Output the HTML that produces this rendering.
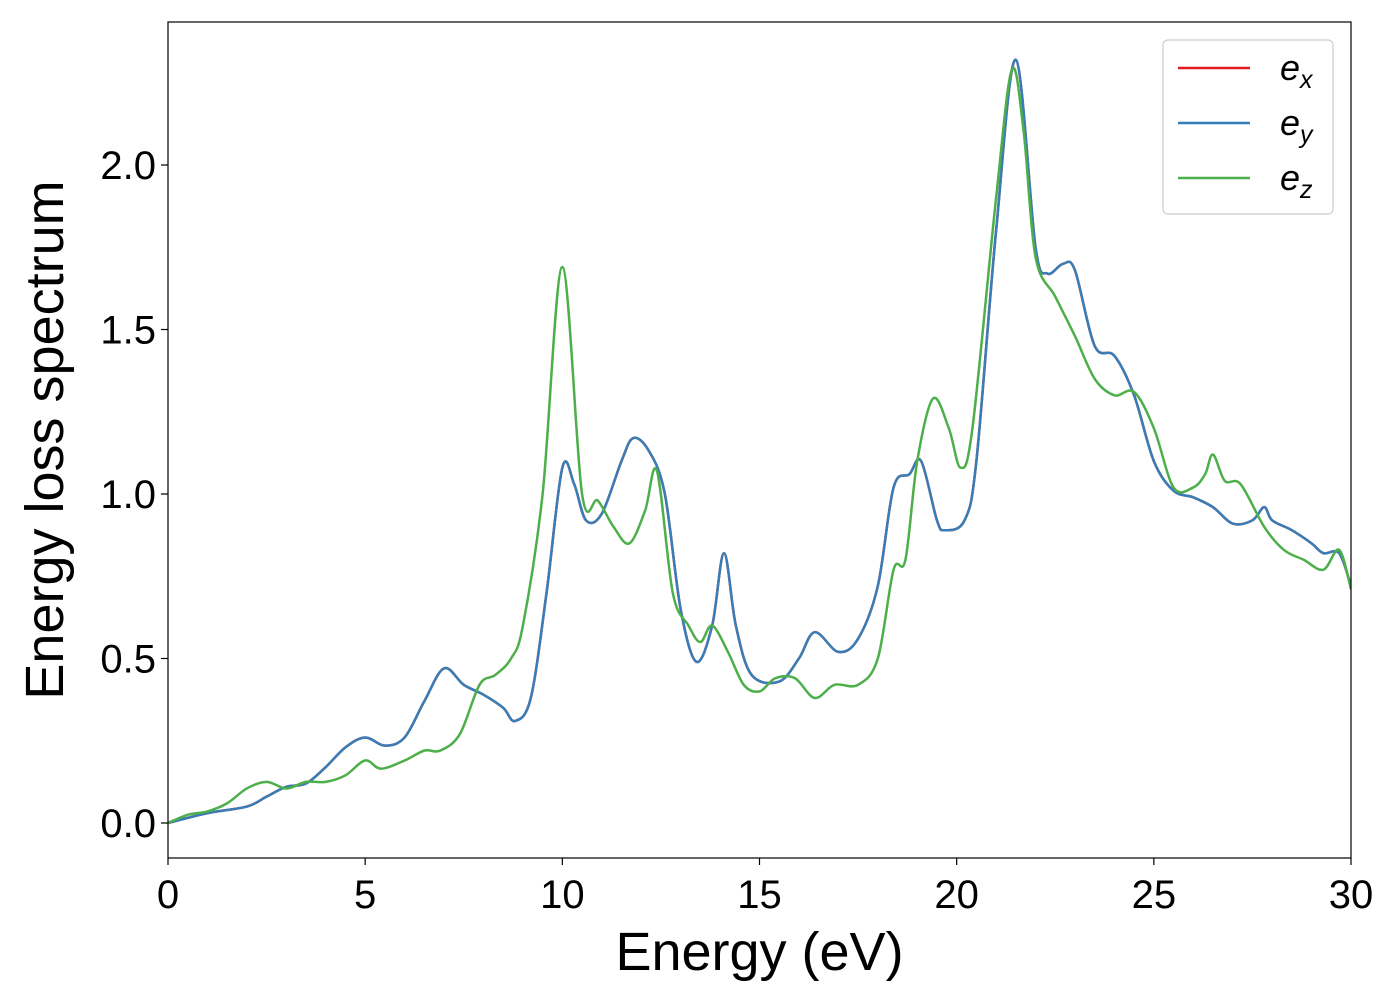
<!DOCTYPE html>
<html><head><meta charset="utf-8"><style>
body{margin:0;background:#fff;}
svg text{font-family:"Liberation Sans","DejaVu Sans",sans-serif;}
</style></head><body>
<svg id="chart" width="1400" height="1000" xmlns="http://www.w3.org/2000/svg">
<rect width="1400" height="1000" fill="#fff"/>
<g id="plot"></g>
</svg>
<script>
const xTicks=[0,5,10,15,20,25,30];
const yTicks=[0.0,0.5,1.0,1.5,2.0];
const yTickLabels=["0.0","0.5","1.0","1.5","2.0"];
const exE=[0,1,2,2.5,3,3.5,4,4.5,5,5.5,6,6.5,7,7.5,8,8.5,8.8,9.2,9.6,10,10.3,10.6,11,11.5,11.8,12.2,12.6,13,13.4,13.8,14.1,14.4,14.8,15.5,16,16.4,17,17.5,18,18.4,18.8,19.1,19.5,19.7,20.2,20.5,21,21.5,22,22.3,22.7,23,23.5,24,24.5,25,25.5,26,26.5,27,27.5,27.8,28,28.5,29,29.3,29.7,30];
const exV=[0,0.03,0.05,0.08,0.11,0.12,0.17,0.23,0.26,0.235,0.26,0.37,0.47,0.42,0.39,0.35,0.31,0.38,0.7,1.08,1.03,0.92,0.94,1.1,1.17,1.13,1.0,0.65,0.49,0.6,0.82,0.6,0.45,0.43,0.5,0.58,0.52,0.56,0.72,1.02,1.06,1.1,0.92,0.89,0.92,1.1,1.8,2.32,1.75,1.67,1.70,1.68,1.45,1.42,1.3,1.1,1.01,0.99,0.96,0.91,0.92,0.96,0.92,0.89,0.85,0.82,0.82,0.72];
const eyE=exE.slice();
const eyV=exV.slice();
const ezE=[0,0.5,1,1.5,2,2.5,3,3.5,4,4.5,5,5.4,6,6.5,6.9,7.4,7.9,8.3,8.7,9,9.5,10,10.5,10.9,11.3,11.7,12.1,12.4,12.8,13.2,13.5,13.8,14.2,14.6,15,15.4,15.9,16.4,16.9,17.5,18,18.4,18.7,19,19.4,19.8,20.1,20.4,21,21.4,21.7,22,22.5,23,23.5,24,24.5,25,25.5,26,26.3,26.5,26.8,27.2,27.8,28.3,28.8,29.3,29.7,30];
const ezV=[0,0.025,0.035,0.06,0.105,0.125,0.105,0.125,0.125,0.145,0.19,0.165,0.19,0.22,0.22,0.27,0.42,0.45,0.5,0.6,1.0,1.69,1.0,0.98,0.90,0.85,0.95,1.07,0.70,0.6,0.55,0.6,0.52,0.42,0.40,0.44,0.44,0.38,0.42,0.42,0.5,0.77,0.8,1.1,1.29,1.2,1.08,1.2,1.9,2.29,2.1,1.72,1.6,1.48,1.35,1.3,1.31,1.2,1.02,1.02,1.06,1.12,1.04,1.03,0.9,0.83,0.8,0.77,0.83,0.71];

const X0=168,X1=1351,Y0=823,YT=165,plotTop=22,plotBot=858;
const xs=v=>X0+(v-0)/30*(X1-X0);
const ys=v=>Y0+(v-0)/2*(YT-Y0);
const NS="http://www.w3.org/2000/svg";
const g=document.getElementById('plot');
function mk(t,a){const e=document.createElementNS(NS,t);for(const k in a)e.setAttribute(k,a[k]);return e;}
function pathD(E,V){const p=E.map((e,i)=>[xs(e),ys(V[i])]);let d="M"+p[0][0]+","+p[0][1];
for(let i=0;i<p.length-1;i++){const a=p[Math.max(0,i-1)],b=p[i],c=p[i+1],dd=p[Math.min(p.length-1,i+2)];
d+=" C"+(b[0]+(c[0]-a[0])/6)+","+(b[1]+(c[1]-a[1])/6)+" "+(c[0]-(dd[0]-b[0])/6)+","+(c[1]-(dd[1]-b[1])/6)+" "+c[0]+","+c[1];}return d;}
const clip=mk('clipPath',{id:'cp'});clip.appendChild(mk('rect',{x:X0,y:plotTop,width:X1-X0,height:plotBot-plotTop}));g.appendChild(clip);
const series=[[exE,exV,'#e41a1c','series-ex'],[eyE,eyV,'#377eb8','series-ey'],[ezE,ezV,'#4daf4a','series-ez']];
for(const s of series){const p=mk('path',{d:pathD(s[0],s[1]),fill:'none',stroke:s[2],'stroke-width':2.5,'clip-path':'url(#cp)'});


g.appendChild(p);}
const frame=mk('rect',{x:X0,y:plotTop,width:X1-X0,height:plotBot-plotTop,fill:'none',stroke:'#000','stroke-width':1.2});


g.appendChild(frame);
xTicks.forEach(t=>{const x=xs(t);g.appendChild(mk('line',{x1:x,x2:x,y1:plotBot,y2:plotBot+7,stroke:'#000','stroke-width':1.2}));
const tx=mk('text',{x:x,y:plotBot+50,'font-size':40,'text-anchor':'middle'});tx.textContent=t;


g.appendChild(tx);});
yTicks.forEach((t,i)=>{const y=ys(t);g.appendChild(mk('line',{x1:X0-7,x2:X0,y1:y,y2:y,stroke:'#000','stroke-width':1.2}));
const tx=mk('text',{x:X0-12,y:y+14,'font-size':40,'text-anchor':'end'});tx.textContent=yTickLabels[i];


g.appendChild(tx);});
const xt=mk('text',{x:(X0+X1)/2,y:970,'font-size':54,'text-anchor':'middle'});xt.textContent='Energy (eV)';


g.appendChild(xt);
const yt=mk('text',{x:0,y:0,'font-size':54,'text-anchor':'middle',transform:'translate(63,440) rotate(-90)'});yt.textContent='Energy loss spectrum';


g.appendChild(yt);
const lg=mk('rect',{x:1163,y:40,width:170,height:174,rx:5,fill:'#fff',stroke:'#ccc','stroke-width':1.2});


g.appendChild(lg);
const subs=['x','y','z'];
series.forEach((s,i)=>{const y=68+i*55;g.appendChild(mk('line',{x1:1178,x2:1250,y1:y,y2:y,stroke:s[2],'stroke-width':2.5}));
const tx=mk('text',{x:1280,y:y+12,'font-size':36,'font-style':'italic'});tx.textContent='e';
const sb=mk('tspan',{'font-size':25,dy:8});sb.textContent=subs[i];tx.appendChild(sb);


g.appendChild(tx);});
</script>
</body></html>
